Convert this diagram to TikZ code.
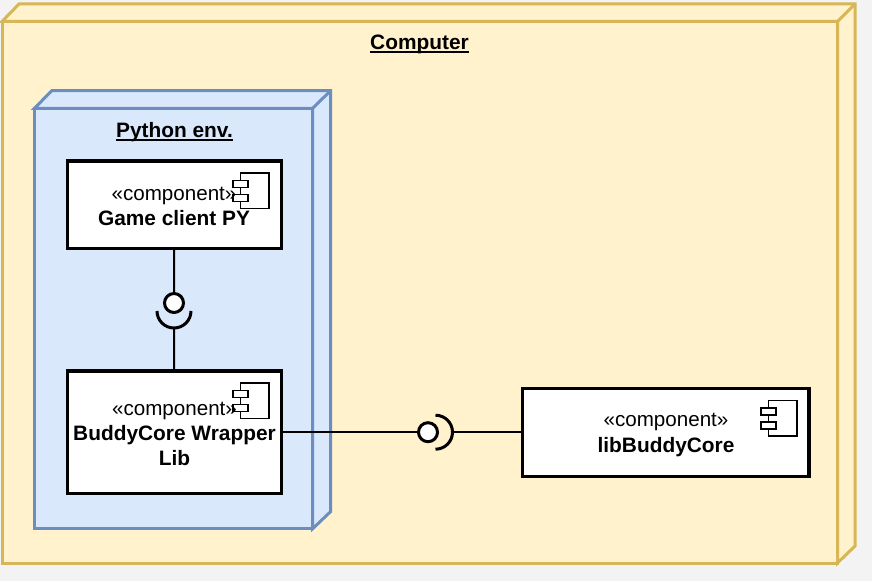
\documentclass[tikz,border=0pt]{standalone}
\usepackage{fontspec}
\setmainfont{Liberation Sans}
\definecolor{yelfill}{HTML}{FFF2CC}
\definecolor{yelline}{HTML}{D6B656}
\definecolor{blufill}{HTML}{DAE8FC}
\definecolor{bluline}{HTML}{6C8EBF}
\definecolor{pagebg}{HTML}{F3F3F3}
\def\px{0.75pt}
\newcommand{\boldtxt}[1]{{\fontsize{15.65}{18.8}\selectfont\bfseries #1}}
\tikzset{
  x=0.75pt, y=-0.75pt,
  cube/.style={line width=2.25pt, line join=miter},
  yelcube/.style={cube, draw=yelline, fill=yelfill},
  blucube/.style={cube, draw=bluline, fill=blufill},
  facebox/.style={rectangle, inner sep=0pt, outer sep=0pt},
  cbox/.style={rectangle, draw=black, fill=white, line width=2.4pt, inner sep=0pt, outer sep=0pt},
  ctext/.style={align=center, inner sep=0pt, font=\fontsize{15.45}{18.8}\selectfont, text=black},
  title/.style={anchor=base, inner sep=0pt, font=\fontsize{15.65}{18.8}\selectfont\bfseries, text=black},
  underrule/.style={draw=black, line width=1.35pt},
  wire/.style={draw=black, line width=1.5pt},
  ball/.style={circle, draw=black, fill=white, line width=2.25pt, inner sep=0pt, outer sep=0pt, minimum size=19*\px},
  sockline/.style={draw=black, line width=2.25pt},
  iconline/.style={draw=black, line width=1.35pt, fill=white},
  compicon/.pic={
    \draw[iconline] (7.5,0) rectangle (36,35.5);
    \draw[iconline] (0,7.5) rectangle (15,14.5);
    \draw[iconline] (0,21.5) rectangle (15,28.5);
  }
}
\begin{document}
\begin{tikzpicture}
\useasboundingbox (0,0) rectangle (872,581);
\fill[pagebg] (0,0) rectangle (872,581);
% Computer node
\draw[yelcube] (2,21.5) -- (19,4) -- (855,4) -- (855,546) -- (837.5,563) -- (837.5,21.5) -- cycle;
\draw[yelcube] (837.5,21.5) -- (855,4);
\node[facebox, draw=yelline, fill=yelfill, line width=2.25pt, minimum width=835.5*\px, minimum height=541.5*\px] (computer) at (419.75,292.25) {};
\node[title] (computerlabel) at (419.5,49.2) {Computer};
\draw[underrule] (370,52) -- (469,52);
% Python env node
\draw[blucube] (34.5,108.3) -- (51.7,90.7) -- (330.5,90.7) -- (330.5,511.7) -- (312.7,528.7) -- (312.7,108.3) -- cycle;
\draw[blucube] (312.7,108.3) -- (330.5,90.7);
\node[facebox, draw=bluline, fill=blufill, line width=2.25pt, minimum width=278.2*\px, minimum height=420.4*\px] (python) at (173.6,318.5) {};
\node[title] (pythonlabel) at (174.5,137.2) {Python env.};
\draw[underrule] (116,140) -- (233,140);
% Components
\node[cbox, minimum width=214*\px, minimum height=87.5*\px] (client) at (174.2,204.7) {};
\node[cbox, minimum width=214*\px, minimum height=122.5*\px] (wrapper) at (174.2,432.2) {};
\node[cbox, minimum width=286.5*\px, minimum height=88*\px] (lib) at (665.7,432.2) {};
\pic at (233,173) {compicon};
\pic at (233,383) {compicon};
\pic at (761,400.5) {compicon};
\node[ctext] (clienttext) at (174,206.5) {«component»\\\boldtxt{Game client PY}};
\node[ctext] (wrappertext) at (174.5,434) {«component»\\\boldtxt{BuddyCore Wrapper}\\\boldtxt{Lib}};
\node[ctext] (libtext) at (666,435) {«component»\\\boldtxt{libBuddyCore}};
% Vertical interface
\node[ball] (ballA) at (174,303) {};
\coordinate (sockA) at (174,328);
\draw[wire] (client.south) -- (ballA.north);
\draw[wire] (sockA) -- (wrapper.north);
\draw[sockline] (157,311) arc[start angle=180, end angle=360, radius=12.75pt];
% Horizontal interface
\node[ball] (ballB) at (428,432.2) {};
\coordinate (sockB) at (452.5,432.2);
\draw[wire] (wrapper.east) -- (ballB.west);
\draw[wire] (sockB) -- (lib.west);
\draw[sockline] (435.5,415.2) arc[start angle=90, end angle=-90, radius=12.75pt];
\end{tikzpicture}
\end{document}
